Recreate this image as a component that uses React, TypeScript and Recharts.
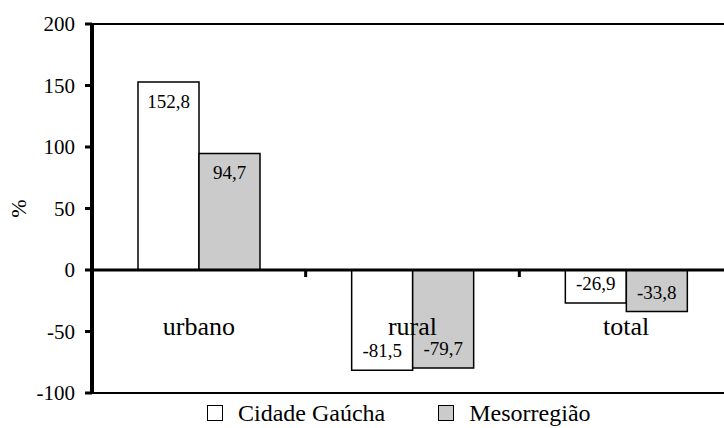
import React from 'react';
import { BarChart, Bar, XAxis, YAxis, ReferenceLine, Legend, LabelList } from 'recharts';

const categories = ['urbano', 'rural', 'total'];
const cidadeGaucha = [152.8, -81.5, -26.9];
const mesorregiao = [94.7, -79.7, -33.8];
const yTicks = [-100, -50, 0, 50, 100, 150, 200];
const seriesNames = ['Cidade Gaúcha', 'Mesorregião'];
const seriesFills = ['#ffffff', '#cbcbcb'];
const yLabel = '%';

const data = categories.map((c, i) => ({ cat: c, a: cidadeGaucha[i], b: mesorregiao[i] }));

const FONT = '"Liberation Serif", "Times New Roman", serif';

const CatTick = (props: any) => {
  const { x, y, payload } = props;
  return (
    <text x={x} y={y - 67} textAnchor="middle" dominantBaseline="central" fontSize={26} fill="#000" fontFamily={FONT}>
      {payload.value}
    </text>
  );
};

const ValueLabel = (props: any) => {
  const { x, y, width, height, value } = props;
  const top = Math.min(y, y + height);
  const bottom = Math.max(y, y + height);
  const cy = value >= 0 ? top + 19 : bottom - 19.5;
  return (
    <text x={x + width / 2} y={cy} textAnchor="middle" dominantBaseline="central" fontSize={19} fill="#000" fontFamily={FONT}>
      {Number(value).toFixed(1).replace('.', ',')}
    </text>
  );
};

const ZeroLine = (props: any) => {
  const { x1, y1, x2, y2 } = props;
  const n = categories.length;
  const band = (x2 - x1) / n;
  const marks = [];
  for (let k = 1; k < n; k++) {
    const mx = x1 + band * k;
    marks.push(<line key={k} x1={mx} y1={y1} x2={mx} y2={y1 + 7} stroke="#000" strokeWidth={3} />);
  }
  return (
    <g>
      <line x1={x1} y1={y1} x2={x2} y2={y2} stroke="#000" strokeWidth={3} />
      {marks}
    </g>
  );
};

const LegendContent = () => (
  <div style={{ display: 'flex', alignItems: 'center', fontSize: 24, lineHeight: '20px', color: '#000', fontFamily: FONT }}>
    {seriesNames.map((n, i) => (
      <div key={n} style={{ display: 'flex', alignItems: 'center', marginRight: i === 0 ? 53 : 0 }}>
        <span style={{ display: 'inline-block', width: 14, height: 14, border: '1px solid #000', background: seriesFills[i], marginRight: 15 }} />
        <span>{n}</span>
      </div>
    ))}
  </div>
);

const YLabel = (props: any) => {
  const vb = props.viewBox || { x: 0, y: 0, width: 0, height: 0 };
  const cx = vb.x + 18;
  const cy = vb.y + vb.height / 2;
  return (
    <text x={cx} y={cy} textAnchor="middle" dominantBaseline="central" fontSize={22} fill="#000" fontFamily={FONT} transform={`rotate(-90 ${cx} ${cy})`}>
      {yLabel}
    </text>
  );
};

export default function App() {
  return (
    <div style={{ position: 'fixed', left: 0, top: 0, width: 724, height: 428, overflow: 'hidden', background: '#fff', fontFamily: FONT }}>
      <BarChart
        width={740}
        height={428}
        data={data}
        margin={{ top: 24, right: 7, left: 0, bottom: 34 }}
        barGap={0}
        barSize={61}
      >
        <XAxis
          dataKey="cat"
          height={1}
          tickSize={0}
          tickMargin={0}
          tick={<CatTick />}
          axisLine={{ stroke: '#000', strokeWidth: 2 }}
          tickLine={false}
        />
        <YAxis
          width={92}
          domain={[-100, 200]}
          ticks={yTicks}
          interval={0}
          tickSize={7}
          tickMargin={10}
          tick={{ fill: '#000', fontSize: 21, fontFamily: FONT }}
          axisLine={{ stroke: '#000', strokeWidth: 4 }}
          tickLine={{ stroke: '#000', strokeWidth: 3 }}
          label={{ content: <YLabel /> } as any}
        />
        <Bar dataKey="a" name={seriesNames[0]} fill={seriesFills[0]} stroke="#000" strokeWidth={1.5} isAnimationActive={false}>
          <LabelList dataKey="a" content={<ValueLabel />} />
        </Bar>
        <Bar dataKey="b" name={seriesNames[1]} fill={seriesFills[1]} stroke="#000" strokeWidth={1.5} isAnimationActive={false}>
          <LabelList dataKey="b" content={<ValueLabel />} />
        </Bar>
        <ReferenceLine y={200} stroke="#000" strokeWidth={2} />
        <ReferenceLine y={0} shape={<ZeroLine />} />
        <Legend
          layout="horizontal"
          verticalAlign="middle"
          align="center"
          content={<LegendContent />}
          wrapperStyle={{ top: 403, left: 207, width: 500, height: 20 }}
        />
      </BarChart>
    </div>
  );
}
